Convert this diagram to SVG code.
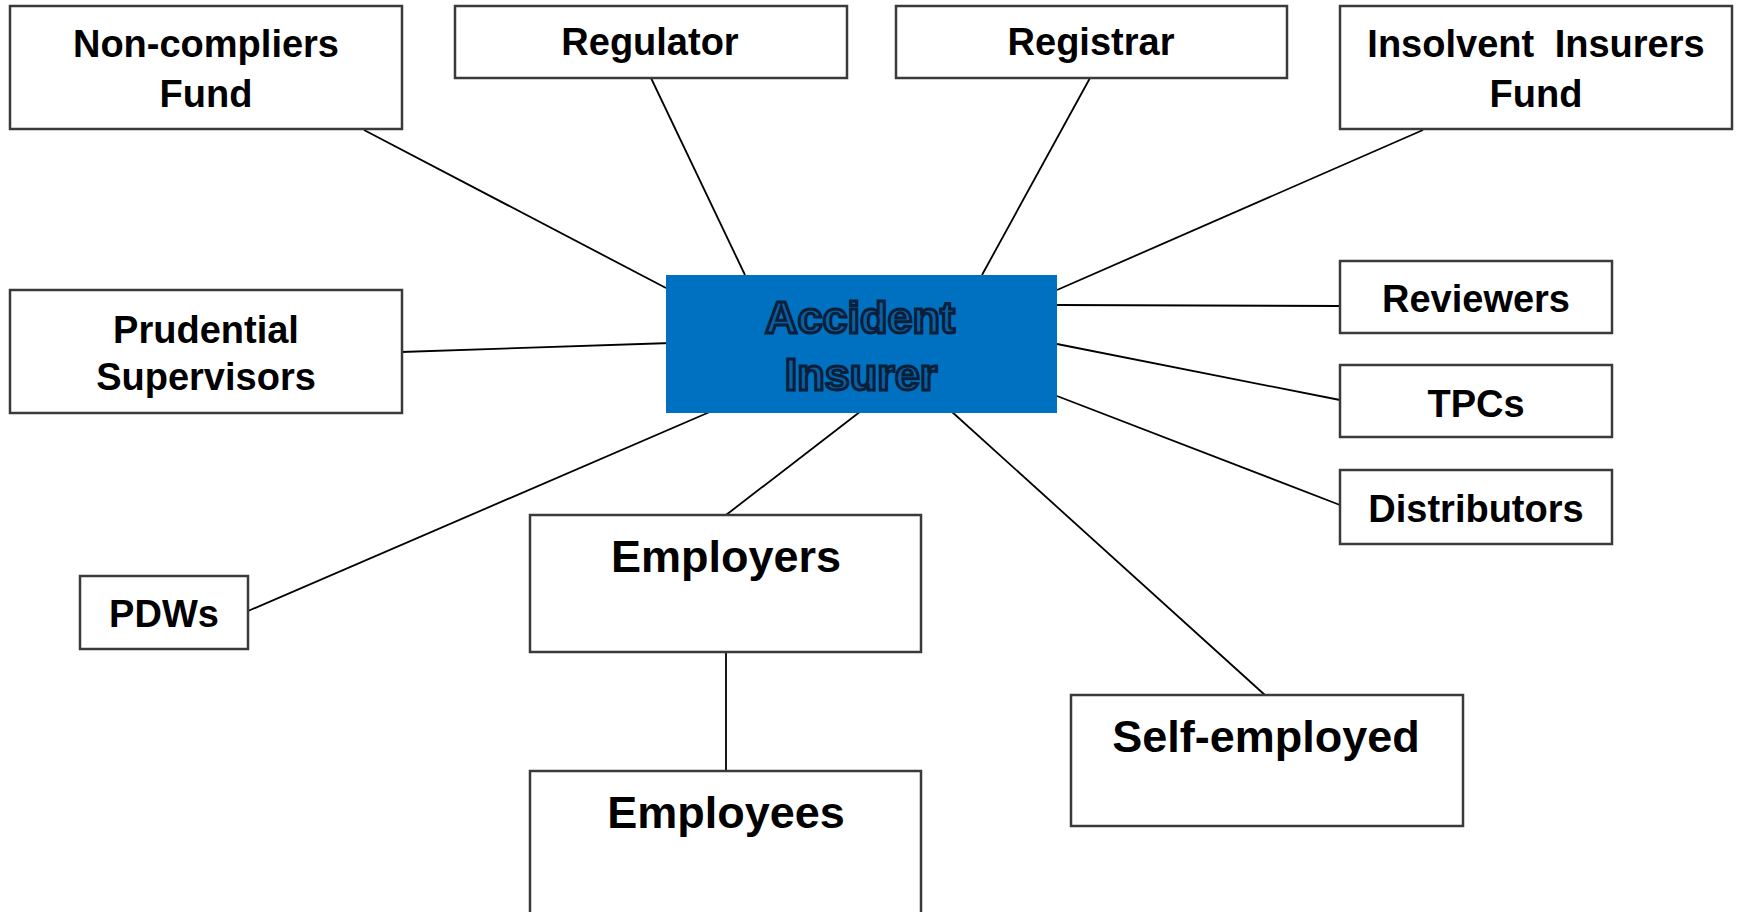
<svg xmlns="http://www.w3.org/2000/svg" width="1738" height="912" viewBox="0 0 1738 912">
<style>
.box{fill:#ffffff;stroke:#3a3a3a;stroke-width:2.5}
.t{font-family:"Liberation Sans",Arial,sans-serif;font-weight:bold;font-size:38px;fill:#000;text-anchor:middle}
.tl{font-size:45px}
.c{stroke:#000;stroke-width:1.8;fill:none}
.main{fill:#0070c0}
.mt{font-family:"Liberation Sans",Arial,sans-serif;font-weight:bold;font-size:45px;fill:#0b5fa3;stroke:#0a1f3a;stroke-width:3;paint-order:normal;text-anchor:middle}
</style>
<rect width="1738" height="912" fill="#ffffff"/>
<g id="connectors">
<line class="c" x1="364" y1="130" x2="666" y2="288"/>
<line class="c" x1="651" y1="78" x2="745" y2="275"/>
<line class="c" x1="1090" y1="78" x2="982" y2="275"/>
<line class="c" x1="1423" y1="130" x2="1057" y2="290"/>
<line class="c" x1="1057" y1="305" x2="1340" y2="306"/>
<line class="c" x1="1057" y1="344" x2="1340" y2="400"/>
<line class="c" x1="1057" y1="396" x2="1340" y2="505"/>
<line class="c" x1="401" y1="352" x2="671" y2="343"/>
<line class="c" x1="712" y1="411" x2="248" y2="611"/>
<line class="c" x1="861" y1="411" x2="726" y2="515"/>
<line class="c" x1="951" y1="411" x2="1266" y2="696"/>
<line class="c" x1="726" y1="652" x2="726" y2="771"/>
</g>
<g id="accident-insurer">
<rect class="main" x="666" y="275" width="391" height="138"/>
<text class="mt" x="860" y="333">Accident</text>
<text class="mt" x="861" y="390">Insurer</text>
</g>
<g id="non-compliers-fund">
<rect class="box" x="10" y="6" width="392" height="123"/>
<text class="t" x="206" y="57">Non-compliers</text>
<text class="t" x="206" y="107">Fund</text>
</g>
<g id="regulator">
<rect class="box" x="455" y="6" width="392" height="72"/>
<text class="t" x="650" y="55">Regulator</text>
</g>
<g id="registrar">
<rect class="box" x="896" y="6" width="391" height="72"/>
<text class="t" x="1091" y="55">Registrar</text>
</g>
<g id="insolvent-insurers-fund">
<rect class="box" x="1340" y="6" width="392" height="123"/>
<text class="t" x="1536" y="57" word-spacing="10">Insolvent Insurers</text>
<text class="t" x="1536" y="107">Fund</text>
</g>
<g id="prudential-supervisors">
<rect class="box" x="10" y="290" width="392" height="123"/>
<text class="t" x="206" y="343">Prudential</text>
<text class="t" x="206" y="390">Supervisors</text>
</g>
<g id="reviewers">
<rect class="box" x="1340" y="261" width="272" height="72"/>
<text class="t" x="1476" y="312">Reviewers</text>
</g>
<g id="tpcs">
<rect class="box" x="1340" y="365" width="272" height="72"/>
<text class="t" x="1476" y="417">TPCs</text>
</g>
<g id="distributors">
<rect class="box" x="1340" y="470" width="272" height="74"/>
<text class="t" x="1476" y="522">Distributors</text>
</g>
<g id="pdws">
<rect class="box" x="80" y="576" width="168" height="73"/>
<text class="t" x="164" y="627">PDWs</text>
</g>
<g id="employers">
<rect class="box" x="530" y="515" width="391" height="137"/>
<text class="t tl" x="726" y="572">Employers</text>
</g>
<g id="employees">
<rect class="box" x="530" y="771" width="391" height="150"/>
<text class="t tl" x="726" y="828">Employees</text>
</g>
<g id="self-employed">
<rect class="box" x="1071" y="695" width="392" height="131"/>
<text class="t tl" x="1266" y="752">Self-employed</text>
</g>
</svg>
